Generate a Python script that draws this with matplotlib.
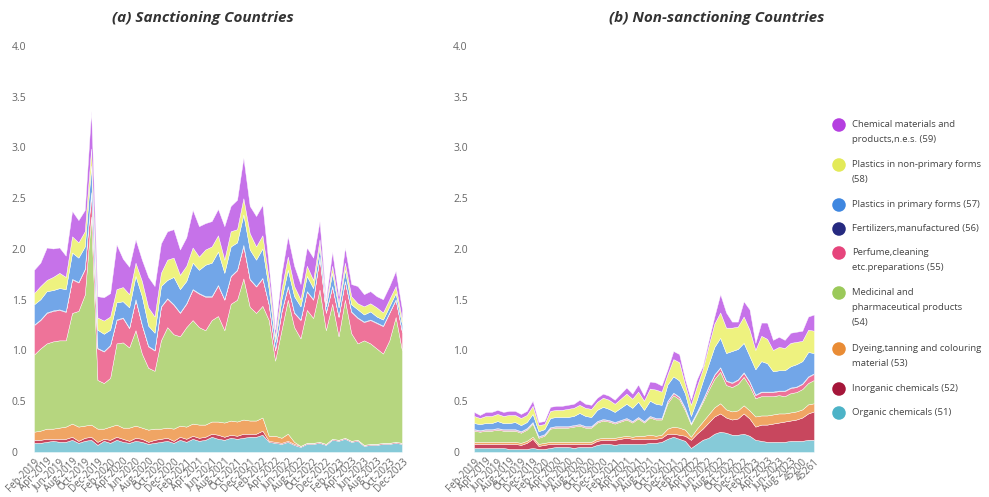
import matplotlib.pyplot as plt

plt.rcParams['font.family'] = ['Liberation Sans Narrow', 'Open Sans', 'DejaVu Sans']

tick_labels_a = ['Feb-2019', 'Apr-2019', 'Jun-2019', 'Aug-2019', 'Oct-2019', 'Dec-2019',
                 'Feb-2020', 'Apr-2020', 'Jun-2020', 'Aug-2020', 'Oct-2020', 'Dec-2020',
                 'Feb-2021', 'Apr-2021', 'Jun-2021', 'Aug-2021', 'Oct-2021', 'Dec-2021',
                 'Feb-2022', 'Apr-2022', 'Jun-2022', 'Aug-2022', 'Oct-2022', 'Dec-2022',
                 'Feb-2023', 'Apr-2023', 'Jun-2023', 'Aug-2023', 'Oct-2023', 'Dec-2023']
tick_labels_b = ['Feb-2019', 'Apr-2019', 'Jun-2019', 'Aug-2019', 'Oct-2019', 'Dec-2019',
                 'Feb-2020', 'Apr-2020', 'Jun-2020', 'Aug-2020', 'Oct-2020', 'Dec-2020',
                 'Feb-2021', 'Apr-2021', 'Jun-2021', 'Aug-2021', 'Oct-2021', 'Dec-2021',
                 'Feb-2022', 'Apr-2022', 'Jun-2022', 'Aug-2022', 'Oct-2022', 'Dec-2022',
                 'Feb-2023', 'Apr-2023', 'Jun-2023', 'Aug-2023', '45200', '45261']

# (a) sanctioning countries, bottom layer first: 51 ... 59
organic_a = [.09, .09, .10, .11, .10, .10, .12, .09, .11, .12, .07, .11, .09, .12, .10, .09, .11, .10, .08, .09,
             .10, .11, .09, .12, .10, .13, .11, .12, .15, .13, .12, .14, .13, .14, .15, .15, .17, .10, .09, .08,
             .10, .07, .05, .08, .08, .09, .07, .12, .11, .13, .10, .11, .06, .07, .07, .08, .08, .09, .08]
inorganic_a = [.03, .03, .03, .02, .03, .03, .03, .02, .03, .03, .03, .02, .03, .03, .03, .02, .03, .03, .02, .03,
               .03, .03, .02, .03, .03, .03, .03, .03, .03, .04, .03, .03, .03, .04, .03, .03, .04, .01, .01, .01,
               .01, .01, .01, .01, .01, .01, .01, .01, .01, .01, .01, .01, .01, .01, .01, .01, .01, .01, .01]
dyeing_a = [.08, .09, .10, .10, .11, .12, .13, .14, .12, .12, .13, .10, .13, .12, .11, .13, .12, .11, .12, .11,
            .10, .10, .12, .11, .12, .12, .13, .12, .12, .13, .14, .14, .14, .14, .13, .13, .13, .05, .06, .05,
            .07, .02, .00, .00, .00, .00, .00, .00, .00, .00, .00, .00, .00, .00, .00, .00, .00, .00, .00]
medicinal_a = [.76, .81, .84, .86, .86, .85, 1.09, 1.14, 1.29, 2.05, .48, .45, .48, .80, .84, .79, .94, .73, .61, .57,
               .87, .99, .93, .88, .98, 1.02, .96, .93, 1.00, 1.04, .91, 1.15, 1.20, 1.39, 1.12, 1.06, 1.10, 1.14, .74, 1.06,
               1.32, 1.13, 1.06, 1.31, 1.23, 1.50, 1.12, 1.33, 1.02, 1.36, 1.06, .95, 1.03, .99, .94, .88, 1.01, 1.23, .91]
perfume_a = [.29, .28, .30, .30, .30, .28, .33, .28, .25, .23, .31, .31, .32, .23, .24, .19, .30, .28, .21, .20,
             .33, .28, .29, .23, .23, .30, .33, .33, .23, .30, .30, .27, .29, .32, .27, .26, .27, .15, .10, .18,
             .13, .14, .18, .18, .18, .32, .17, .17, .19, .18, .21, .25, .18, .23, .25, .27, .27, .17, .18]
fertilizers_a = [.005, .005, .005, .005, .005, .005, .005, .005, .005, .01, .005, .005, .005, .005, .005, .005, .005, .005, .005, .005,
                 .005, .005, .005, .005, .005, .005, .005, .005, .005, .005, .005, .005, .005, .01, .005, .005, .005, .005, .005, .005,
                 .005, .005, .005, .005, .005, .005, .005, .005, .005, .005, .005, .005, .005, .005, .005, .005, .005, .005, .005]
plastics_prim_a = [.20, .20, .21, .20, .21, .22, .26, .24, .22, .26, .18, .17, .15, .17, .16, .20, .23, .28, .20, .17,
                   .20, .18, .27, .23, .22, .26, .23, .31, .33, .33, .26, .29, .27, .30, .29, .26, .29, .15, .08, .12,
                   .16, .16, .13, .15, .11, .10, .06, .13, .09, .11, .07, .08, .07, .08, .06, .06, .06, .06, .07]
plastics_nonprim_a = [.11, .13, .11, .13, .15, .12, .16, .15, .15, .17, .12, .13, .13, .13, .14, .13, .13, .15, .18, .16,
                      .13, .20, .19, .14, .15, .15, .13, .15, .16, .16, .13, .15, .13, .16, .16, .13, .13, .10, .05, .10,
                      .13, .10, .07, .10, .08, .07, .03, .07, .04, .07, .08, .06, .08, .08, .09, .07, .07, .07, .05]
chem_mat_a = [.23, .23, .32, .28, .25, .21, .25, .22, .21, .37, .21, .23, .23, .44, .28, .27, .23, .21, .30, .30,
              .29, .28, .28, .25, .28, .37, .30, .26, .25, .26, .33, .25, .29, .40, .27, .30, .30, .13, .07, .15,
              .20, .20, .15, .18, .22, .18, .04, .14, .07, .15, .12, .17, .12, .12, .11, .13, .13, .15, .10]

# (b) non-sanctioning countries
organic_b = [.04, .04, .04, .04, .04, .04, .03, .03, .03, .03, .04, .03, .03, .04, .05, .05, .05, .04, .05, .05,
             .05, .07, .08, .08, .07, .08, .08, .08, .08, .08, .09, .09, .10, .13, .15, .13, .11, .04, .08, .12,
             .14, .18, .20, .19, .17, .17, .18, .16, .12, .11, .10, .10, .10, .10, .11, .11, .11, .12, .12]
inorganic_b = [.04, .04, .04, .04, .04, .04, .05, .05, .04, .06, .09, .03, .04, .04, .03, .03, .03, .04, .03, .03,
               .03, .04, .04, .04, .05, .05, .06, .05, .05, .05, .04, .04, .04, .05, .03, .04, .05, .08, .10, .11,
               .15, .17, .18, .15, .15, .16, .20, .17, .13, .16, .17, .18, .19, .20, .20, .21, .23, .26, .28]
dyeing_b = [.02, .02, .02, .02, .02, .02, .02, .02, .02, .02, .02, .02, .02, .02, .02, .02, .02, .02, .02, .02,
            .02, .02, .02, .02, .02, .02, .02, .02, .03, .03, .04, .03, .03, .05, .07, .07, .06, .03, .05, .07,
            .08, .09, .10, .08, .08, .08, .08, .08, .10, .09, .09, .09, .09, .08, .08, .08, .08, .09, .08]
medicinal_b = [.11, .10, .11, .11, .12, .11, .11, .11, .10, .11, .13, .06, .07, .13, .14, .14, .14, .15, .16, .14,
               .14, .16, .17, .16, .14, .15, .16, .14, .17, .13, .17, .16, .15, .25, .31, .28, .19, .12, .15, .19,
               .24, .28, .31, .24, .24, .26, .28, .24, .18, .19, .19, .18, .18, .17, .19, .19, .20, .21, .23]
perfume_b = [.01, .01, .01, .01, .01, .01, .01, .01, .01, .01, .01, .01, .01, .01, .01, .01, .01, .01, .01, .01,
             .01, .01, .01, .01, .01, .01, .01, .01, .01, .01, .01, .01, .01, .02, .02, .02, .02, .01, .01, .02,
             .03, .04, .04, .04, .04, .04, .04, .04, .03, .04, .04, .04, .04, .05, .05, .05, .05, .06, .06]
fertilizers_b = [.005, .005, .005, .005, .005, .005, .005, .005, .005, .005, .005, .005, .005, .005, .005, .005, .005, .005, .005, .005,
                 .005, .005, .005, .005, .005, .005, .005, .005, .005, .005, .005, .005, .005, .005, .005, .005, .005, .005, .005, .005,
                 .005, .005, .005, .005, .005, .005, .005, .005, .005, .005, .005, .005, .005, .005, .005, .005, .005, .005, .005]
plastics_prim_b = [.06, .06, .06, .06, .07, .06, .06, .07, .06, .06, .08, .05, .05, .09, .09, .09, .09, .09, .11, .10,
                   .09, .11, .12, .11, .10, .12, .14, .13, .15, .11, .15, .14, .13, .16, .16, .16, .14, .07, .12, .18,
                   .22, .27, .29, .27, .31, .30, .29, .25, .25, .30, .28, .20, .20, .20, .21, .22, .22, .24, .20]
plastics_nonprim_b = [.07, .06, .07, .07, .07, .07, .08, .07, .07, .07, .08, .06, .05, .07, .07, .07, .08, .08, .08, .08,
                      .08, .08, .09, .09, .08, .09, .10, .09, .10, .09, .12, .14, .13, .10, .17, .18, .09, .11, .13, .12,
                      .18, .23, .25, .25, .23, .22, .26, .26, .19, .25, .24, .21, .23, .22, .23, .22, .20, .22, .22]
chem_mat_b = [.04, .03, .04, .04, .04, .04, .04, .04, .04, .04, .05, .03, .03, .04, .04, .04, .04, .04, .05, .04,
              .04, .04, .04, .04, .04, .05, .06, .05, .07, .05, .07, .07, .06, .05, .08, .08, .05, .05, .07, .03,
              .05, .07, .18, .15, .06, .05, .15, .20, .07, .13, .16, .10, .10, .08, .10, .10, .10, .13, .16]

legend_labels = ['Chemical materials and\nproducts,n.e.s. (59)',
                 'Plastics in non-primary forms\n(58)',
                 'Plastics in primary forms (57)',
                 'Fertilizers,manufactured (56)',
                 'Perfume,cleaning\netc.preparations (55)',
                 'Medicinal and\npharmaceutical products\n(54)',
                 'Dyeing,tanning and colouring\nmaterial (53)',
                 'Inorganic chemicals (52)',
                 'Organic chemicals (51)']

# bottom -> top colours (51 ... 59)
fill_colors = ['#86cad8', '#c8475e', '#f0a564', '#b6d67f', '#ee7399', '#3a3d8f', '#72a6e8', '#eef27f', '#c672e9']
dot_colors = ['#4db3c7', '#a5163a', '#e98c35', '#9bc95a', '#e6457c', '#262a80', '#3f87e0', '#e3ea58', '#b53fe0']

series_a = [organic_a, inorganic_a, dyeing_a, medicinal_a, perfume_a, fertilizers_a,
            plastics_prim_a, plastics_nonprim_a, chem_mat_a]
series_b = [organic_b, inorganic_b, dyeing_b, medicinal_b, perfume_b, fertilizers_b,
            plastics_prim_b, plastics_nonprim_b, chem_mat_b]

W, H = 989, 497
fig = plt.figure(figsize=(W / 100, H / 100), dpi=100)
ax_a = fig.add_axes([34 / W, 45 / H, 368 / W, 406 / H])
ax_b = fig.add_axes([474 / W, 45 / H, 340 / W, 406 / H])

for ax, series, labels, pad in [(ax_a, series_a, tick_labels_a, 16), (ax_b, series_b, tick_labels_b, 15)]:
    x = list(range(len(series[0])))
    ax.stackplot(x, *series, colors=fill_colors, edgecolor='white', linewidth=0.3)
    ax.set_xlim(0, len(x) - 1)
    ax.set_ylim(0, 4.0)
    ax.set_xticks(x[::2])
    ax.set_xticklabels(labels, rotation=45, ha='right', rotation_mode='anchor',
                       fontsize=7, color='#666666')
    ax.set_yticks([0, 0.5, 1.0, 1.5, 2.0, 2.5, 3.0, 3.5, 4.0])
    ax.set_yticklabels(['0', '0.5', '1.0', '1.5', '2.0', '2.5', '3.0', '3.5', '4.0'],
                       fontsize=7.5, color='#666666', ha='left')
    ax.tick_params(axis='y', length=0, pad=pad)
    ax.tick_params(axis='x', length=0, pad=3)
    for s in ax.spines.values():
        s.set_visible(False)

fig.text(203 / W, 1 - 18 / H, '(a) Sanctioning Countries', ha='center', va='center',
         fontsize=11, fontweight='bold', fontstyle='italic', color='#333333')
fig.text(717 / W, 1 - 18 / H, '(b) Non-sanctioning Countries', ha='center', va='center',
         fontsize=11, fontweight='bold', fontstyle='italic', color='#333333')

# legend drawn by hand in pixel coordinates
leg = fig.add_axes([0, 0, 1, 1])
leg.set_xlim(0, W)
leg.set_ylim(H, 0)
leg.axis('off')
leg.patch.set_alpha(0)
y = 125
for lab, c in zip(legend_labels, dot_colors[::-1]):
    leg.scatter(839, y, s=95, color=c, edgecolors='none')
    leg.text(852, y - 5, lab, va='top', ha='left', fontsize=6.8, color='#444444', linespacing=1.85)
    y += 16 * (lab.count('\n') + 1) + 8

fig.savefig('out.png', dpi=100)
